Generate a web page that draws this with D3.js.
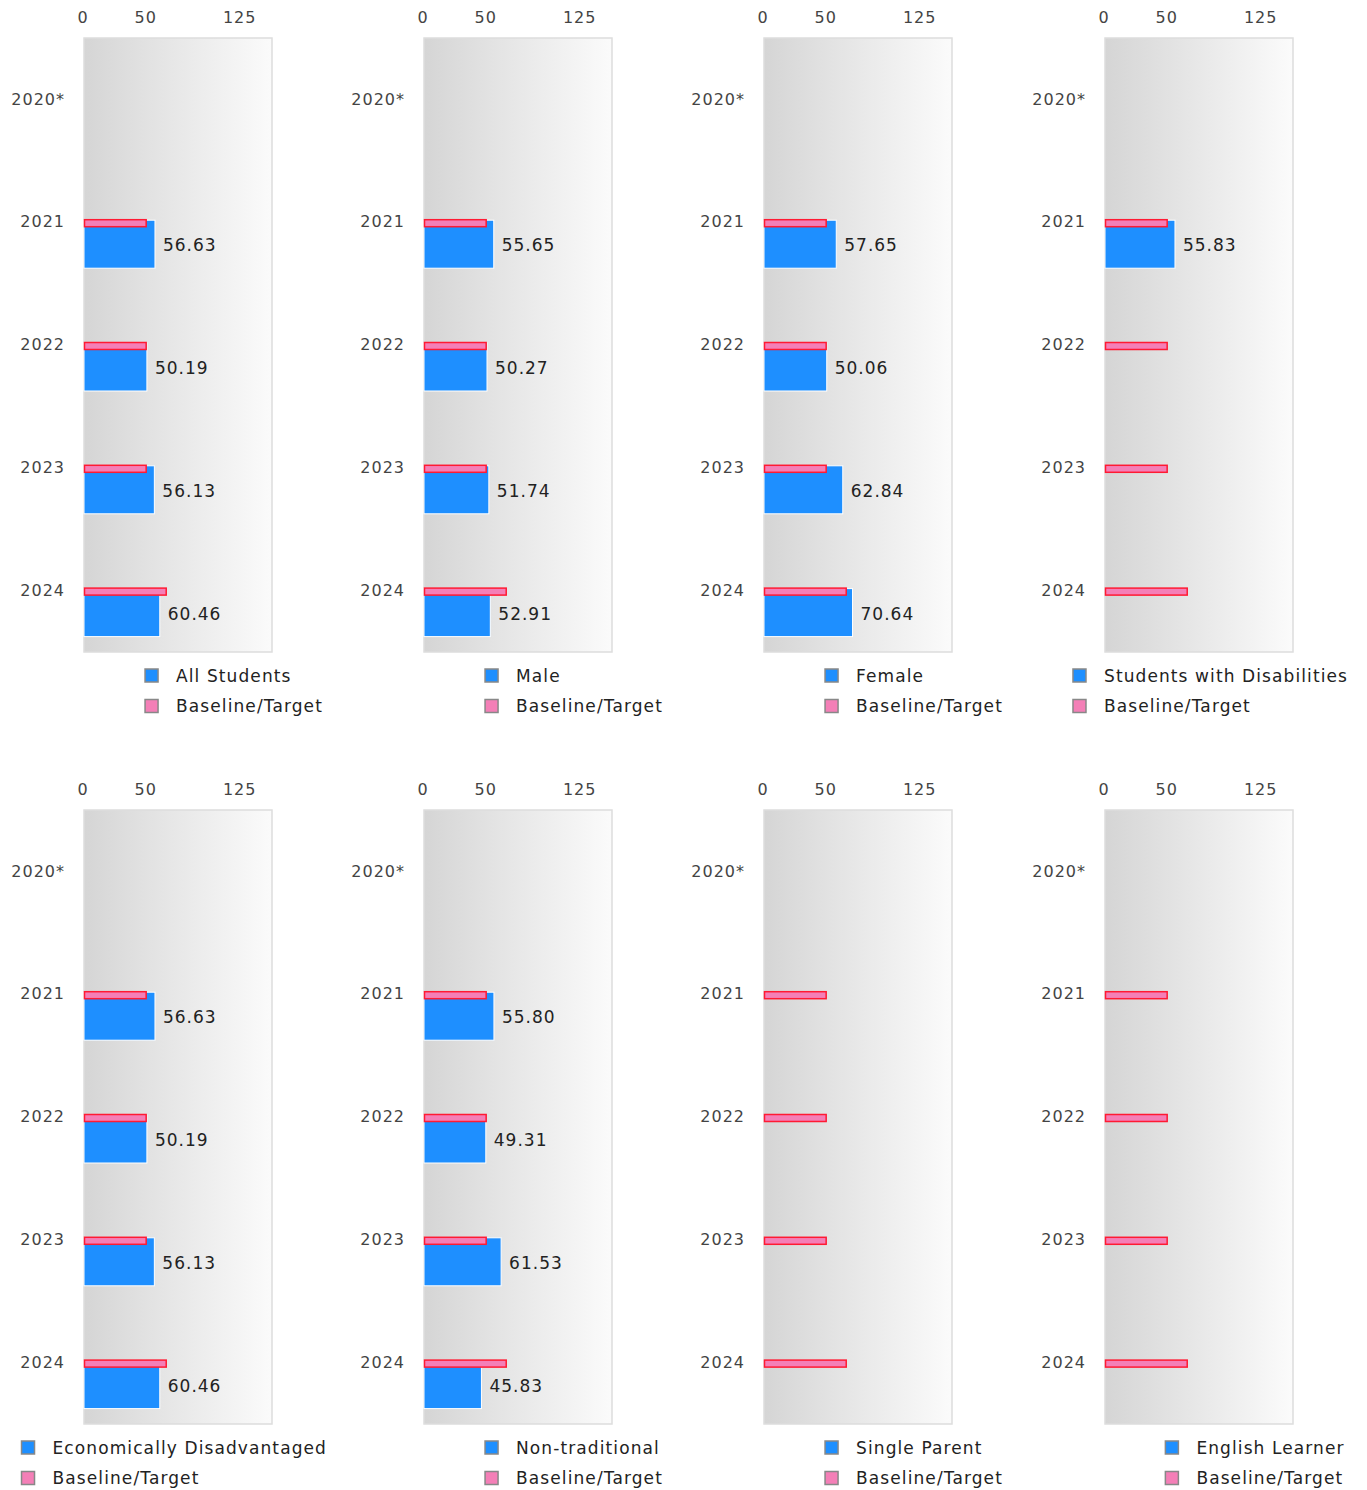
<!DOCTYPE html>
<html>
<head>
<meta charset="utf-8">
<script src="https://cdn.jsdelivr.net/npm/d3@7"></script>
<style>
  html, body { margin: 0; padding: 0; background: #fff; }
  text { font-family: "DejaVu Sans", Verdana, sans-serif; }
</style>
</head>
<body>
<svg id="chart" width="1367" height="1490"></svg>
<script>
// ---- data ----
const categories = ["2020*", "2021", "2022", "2023", "2024"];
const tickValues = [0, 50, 125];
const groups = ["All Students", "Male", "Female", "Students with Disabilities",
                "Economically Disadvantaged", "Non-traditional", "Single Parent", "English Learner"];
const allStudents    = [null, 56.63, 50.19, 56.13, 60.46];
const male           = [null, 55.65, 50.27, 51.74, 52.91];
const female         = [null, 57.65, 50.06, 62.84, 70.64];
const disabilities   = [null, 55.83, null, null, null];
const econDisadv     = [null, 56.63, 50.19, 56.13, 60.46];
const nonTraditional = [null, 55.80, 49.31, 61.53, 45.83];
const singleParent   = [null, null, null, null, null];
const englishLearner = [null, null, null, null, null];
const baselineTarget = [null, 50, 50, 50, 66];
const seriesValues = [allStudents, male, female, disabilities, econDisadv, nonTraditional, singleParent, englishLearner];
const targetLabel = "Baseline/Target";

// ---- layout ----
const svg = d3.select("#chart");
const colX = [0, 340, 680, 1021];
const rowY = [0, 772];
const defs = svg.append("defs");
const grad = defs.append("linearGradient").attr("id", "bg").attr("x1", "0%").attr("x2", "100%").attr("y1", "0%").attr("y2", "0%");
grad.append("stop").attr("offset", "0%").attr("stop-color", "#d5d5d5");
grad.append("stop").attr("offset", "100%").attr("stop-color", "#fbfbfb");

const blue = "#1e8fff", pink = "#f47fb7", pinkStroke = "#ff1a33";

groups.forEach((name, i) => {
  const g = svg.append("g").attr("transform", `translate(${colX[i % 4]},${rowY[Math.floor(i / 4)]})`);
  const x = d3.scaleLinear().domain([0, 150]).range([84, 272]);
  const y = d3.scaleBand().domain(categories).range([38, 652]).padding(0);
  const vals = seriesValues[i];

  // plot background
  g.append("rect").attr("x", 84).attr("y", 38).attr("width", 188).attr("height", 614)
    .attr("fill", "url(#bg)").attr("stroke", "#dddddd").attr("stroke-width", 1.5);

  // top axis
  const ax = g.append("g").attr("transform", "translate(-1.5,0)")
    .call(d3.axisTop(x).tickValues(tickValues).tickSize(0).tickPadding(0).tickFormat(d3.format("d")));
  ax.select(".domain").remove();
  ax.selectAll("text").attr("y", 23).attr("font-size", 16).attr("fill", "#444")
    .attr("letter-spacing", 1).attr("font-family", "DejaVu Sans");

  // left axis (category labels)
  const ay = g.append("g").attr("transform", "translate(67,0)")
    .call(d3.axisLeft(y).tickSize(0).tickPadding(2));
  ay.select(".domain").remove();
  ay.selectAll("text").attr("font-size", 16).attr("fill", "#444").attr("letter-spacing", 1)
    .attr("font-family", "DejaVu Sans");

  const cy = c => y(c) + y.bandwidth() / 2;

  // blue bars
  const data = categories.map((c, k) => ({ c, v: vals[k], t: baselineTarget[k] }));
  g.selectAll(".bar").data(data.filter(d => d.v != null)).enter().append("rect")
    .attr("x", x(0)).attr("y", d => cy(d.c) - 2)
    .attr("width", d => x(d.v) - x(0)).attr("height", 48)
    .attr("fill", blue).attr("stroke", "#fff").attr("stroke-width", 1);

  // target bars
  g.selectAll(".tgt").data(data.filter(d => d.t != null)).enter().append("rect")
    .attr("x", x(0) + 0.5).attr("y", d => cy(d.c) - 2.5)
    .attr("width", d => x(d.t) - x(0) - 1).attr("height", 7)
    .attr("fill", pink).attr("stroke", pinkStroke).attr("stroke-width", 1.5);

  // value labels
  g.selectAll(".lbl").data(data.filter(d => d.v != null)).enter().append("text")
    .attr("x", d => x(d.v) + 8).attr("y", d => cy(d.c) + 23)
    .attr("dominant-baseline", "central")
    .attr("font-size", 17).attr("letter-spacing", 1).attr("fill", "#222")
    .text(d => d.v.toFixed(2));

  // legend
  const lg = g.append("g");
  const items = [{ label: name, fill: blue }, { label: targetLabel, fill: pink }];
  const rows = lg.selectAll("g").data(items).enter().append("g")
    .attr("transform", (d, k) => `translate(0,${675.5 + k * 30.5})`);
  rows.append("rect").attr("x", 0).attr("y", -6.5).attr("width", 13).attr("height", 13)
    .attr("fill", d => d.fill).attr("stroke", "#888").attr("stroke-width", 1.5);
  rows.append("text").attr("x", 31).attr("y", 0).attr("dominant-baseline", "central")
    .attr("font-size", 17).attr("letter-spacing", 1.1).attr("fill", "#222").text(d => d.label);
  const w = lg.node().getBBox().width;
  const lx = Math.min(234 - w / 2, 327 - w);
  lg.attr("transform", `translate(${lx},0)`);
});
</script>
</body>
</html>
